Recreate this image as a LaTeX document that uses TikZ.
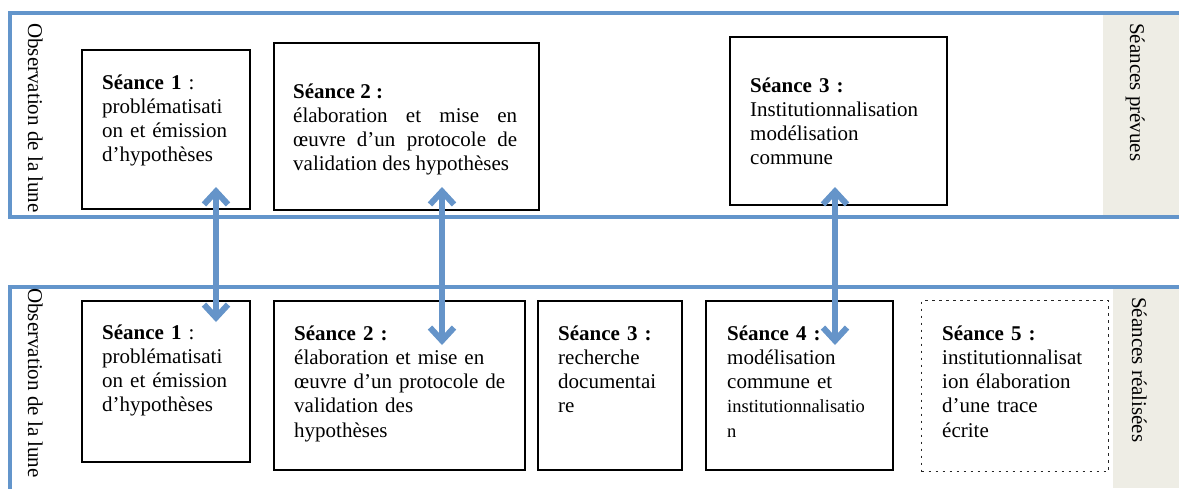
\documentclass[tikz,border=0pt]{standalone}
\usepackage{fontspec}
\setmainfont{Liberation Serif}
\usetikzlibrary{arrows.meta}
\definecolor{frameblue}{RGB}{99,149,203}
\definecolor{arrowblue}{RGB}{101,148,201}
\definecolor{sidegrey}{RGB}{238,237,229}
\tikzset{
  framebar/.style={draw=frameblue,line width=4pt},
  seance/.style={draw=black,line width=1.6pt,inner sep=0pt,anchor=north west},
  seancedot/.style={draw=black!85,line width=1.4pt,dash pattern=on 2.5pt off 4.5pt,inner sep=0pt,anchor=north west},
  txt/.style={anchor=base west,inner sep=0pt,text width=#1,align=left,font=\fontsize{21}{24.3}\selectfont},
  sidetxt/.style={anchor=base west,inner sep=0pt,rotate=-90,font=\fontsize{21}{24}\selectfont},
  sidebox/.style={fill=sidegrey,draw=none,inner sep=0pt,anchor=north west},
  arr/.style={draw=arrowblue,line width=6pt,{Straight Barb[length=13pt,width=24pt]}-{Straight Barb[length=13pt,width=24pt]}}
}
\begin{document}
\begin{tikzpicture}[x=1pt,y=-1pt]
\useasboundingbox[fill=white] (0,0) rectangle (1179,488);

% grey side panels
\node[sidebox,minimum width=76pt,minimum height=204pt] (gtop) at (1103,13) {};
\node[sidebox,minimum width=66pt,minimum height=201pt] (gbot) at (1113,287) {};

% frames
\draw[framebar] (1179,13) -- (10,13) -- (10,216.5) -- (1179,216.5);
\draw[framebar] (1179,287) -- (10,287) -- (10,490);

% side labels
\node[sidetxt] (obs1) at (28,23) {Observation de la lune};
\node[sidetxt] (obs2) at (28,288) {Observation de la lune};
\node[sidetxt] (prev) at (1130,23) {Séances prévues};
\node[sidetxt] (real) at (1132,297) {Séances réalisées};

% top boxes (planned)
\node[seance,minimum width=168pt,minimum height=159pt] (p1) at (81,49) {};
\node[seance,minimum width=265pt,minimum height=167pt] (p2) at (273,42) {};
\node[seance,minimum width=217pt,minimum height=168pt] (p3) at (729,36) {};

\node[txt=140pt] (p1t) at (102,89) {\textbf{Séance 1} :\\problématisati\\on et émission\\d’hypothèses};
\node[txt=224pt,align=justify] (p2t) at (293,98) {\textbf{Séance 2 :}\\élaboration et mise en\linebreak œuvre d’un protocole de\linebreak validation des hypothèses};
\node[txt=190pt] (p3t) at (750,92) {\textbf{Séance 3 :}\\Institutionnalisation\\modélisation\\commune};

% bottom boxes (done)
\node[seance,minimum width=168pt,minimum height=161pt] (r1) at (81,300) {};
\node[seance,minimum width=251pt,minimum height=169pt] (r2) at (273,300) {};
\node[seance,minimum width=144pt,minimum height=169pt] (r3) at (537,300) {};
\node[seance,minimum width=187pt,minimum height=169pt] (r4) at (705,300) {};
\node[seancedot,minimum width=187pt,minimum height=171pt] (r5) at (921,300) {};

\node[txt=140pt] (r1t) at (102,339) {\textbf{Séance 1} :\\problématisati\\on et émission\\d’hypothèses};
\node[txt=225pt] (r2t) at (294,340) {\textbf{Séance 2 :}\\élaboration et mise en\\œuvre d’un protocole de\\validation des\\hypothèses};
\node[txt=120pt] (r3t) at (558,340) {\textbf{Séance 3 :}\\recherche\\documentai\\re};
\node[txt=160pt] (r4t) at (727,340) {\textbf{Séance 4 :}\\modélisation\\commune et\\{\fontsize{18.5}{24.3}\selectfont institutionnalisatio\\n}};
\node[txt=160pt] (r5t) at (942,340) {\textbf{Séance 5 :}\\institutionnalisat\\ion élaboration\\d’une trace\\écrite};

% arrow end points
\coordinate (a1t) at (216,187);
\coordinate (a1b) at (216,322);
\coordinate (a2t) at (442,187);
\coordinate (a2b) at (442,345);
\coordinate (a3t) at (835,187);
\coordinate (a3b) at (835,345);
\draw[arr] (a1t) -- (a1b);
\draw[arr] (a2t) -- (a2b);
\draw[arr] (a3t) -- (a3b);
\end{tikzpicture}
\end{document}
